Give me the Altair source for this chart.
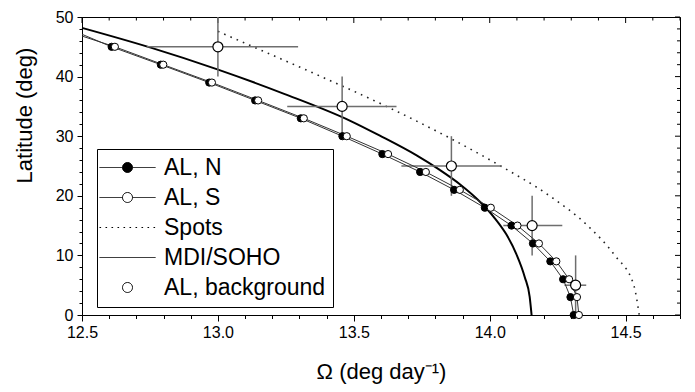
import altair as alt
import pandas as pd

# ---------------- data ----------------
lat_al = [45, 42, 39, 36, 33, 30, 27, 24, 21, 18, 15, 12, 9, 6, 3, 0]
omega_n = [12.609, 12.790, 12.968, 13.137, 13.305, 13.458, 13.605, 13.744,
           13.869, 13.982, 14.080, 14.159, 14.223, 14.270, 14.297, 14.309]
omega_s = [12.621, 12.799, 12.978, 13.148, 13.316, 13.474, 13.626, 13.765,
           13.890, 14.004, 14.102, 14.181, 14.245, 14.292, 14.321, 14.328]
# fitted AL lines continue to the left edge of the plot
edge_omega = 12.5
edge_lat_n = 47.1
edge_lat_s = 46.8

bg_lat = [45, 35, 25, 15, 5]
bg_omega = [13.000, 13.457, 13.859, 14.156, 14.316]
bg_omega_lo = [12.738, 13.255, 13.675, 14.050, 14.275]
bg_omega_hi = [13.295, 13.657, 14.043, 14.267, 14.355]
bg_lat_lo = [40, 30, 20, 10, 0]
bg_lat_hi = [50, 40, 30, 20, 10]

spots_lat = [47.6, 45, 40, 35, 30, 25, 20, 15, 10, 5, 0]
spots_omega = [13.00, 13.13, 13.38, 13.62, 13.84, 14.04, 14.22, 14.36, 14.46, 14.53, 14.55]

mdi_lat = [48.18, 44.90, 41.21, 37.07, 32.62, 30.08, 26.77, 24.34, 21.94, 19.04,
           16.27, 13.53, 10.22, 6.34, 3.03, 0.0]
mdi_omega = [12.500, 12.750, 12.998, 13.246, 13.485, 13.596, 13.731, 13.816,
             13.890, 13.963, 14.018, 14.061, 14.098, 14.129, 14.147, 14.154]

legend_names = ["AL, N", "AL, S", "Spots", "MDI/SOHO", "AL, background"]

x_ticks = [12.5, 12.6, 12.7, 12.8, 12.9, 13.0, 13.1, 13.2, 13.3, 13.4, 13.5,
           13.6, 13.7, 13.8, 13.9, 14.0, 14.1, 14.2, 14.3, 14.4, 14.5, 14.6, 14.7]
x_major = [12.5, 13.0, 13.5, 14.0, 14.5]
x_minor = [t for t in x_ticks if t not in x_major]
y_ticks = [0, 2, 4, 6, 8, 10, 12, 14, 16, 18, 20, 22, 24, 26, 28, 30, 32, 34,
           36, 38, 40, 42, 44, 46, 48, 50]
y_major = [0, 10, 20, 30, 40, 50]
y_minor = [t for t in y_ticks if t not in y_major]

# ---------------- tables ----------------
df_n = pd.DataFrame({"omega": omega_n, "lat": lat_al})
df_s = pd.DataFrame({"omega": omega_s, "lat": lat_al})
df_n_line = pd.DataFrame({"omega": [edge_omega] + omega_n, "lat": [edge_lat_n] + lat_al})
df_s_line = pd.DataFrame({"omega": [edge_omega] + omega_s, "lat": [edge_lat_s] + lat_al})
df_bg = pd.DataFrame({"omega": bg_omega, "lat": bg_lat, "olo": bg_omega_lo,
                      "ohi": bg_omega_hi, "llo": bg_lat_lo, "lhi": bg_lat_hi})
df_spots = pd.DataFrame({"omega": spots_omega, "lat": spots_lat})
df_mdi = pd.DataFrame({"omega": mdi_omega, "lat": mdi_lat})
df_leg = pd.DataFrame({"series": legend_names, "omega": [13.0] * 5, "lat": [10] * 5})

W, H = 598, 298
FONT = "Liberation Sans"
xs = alt.Scale(domain=[12.5, 14.7], nice=False, zero=False)
ys = alt.Scale(domain=[0, 50], nice=False, zero=False)

x_major_test = "abs(datum.value*2 - round(datum.value*2)) < 0.001"
y_major_test = "datum.value % 10 == 0"

# main axes (bottom / left), carried by an invisible layer
axis_main = alt.Chart(df_n).mark_point(opacity=0).encode(
    x=alt.X("omega:Q", scale=xs, axis=alt.Axis(
        orient="bottom", values=x_ticks, title="Ω (deg day⁻¹)",
        labelExpr=f"{x_major_test} ? format(datum.value, '.1f') : ''",
        tickSize={"condition": {"test": x_major_test, "value": 6}, "value": 3.5},
        labelOverlap=False, labelFlush=False, labelPadding=3,
        titleX=299, titleY=63, titleBaseline="alphabetic")),
    y=alt.Y("lat:Q", scale=ys, axis=alt.Axis(
        orient="left", values=y_ticks, title="Latitude (deg)",
        labelExpr=f"{y_major_test} ? datum.value : ''",
        tickSize={"condition": {"test": y_major_test, "value": 5}, "value": 3},
        labelOverlap=False, labelFlush=False, labelPadding=4,
        titleX=-51, titleY=98, titleBaseline="alphabetic", titleAlign="center")),
)

def X(field="omega"):
    return alt.X(f"{field}:Q", scale=xs, axis=None)

def Y(field="lat"):
    return alt.Y(f"{field}:Q", scale=ys, axis=None)

# inward ticks on the top and right frame edges
def top_ticks(vals, length):
    return alt.Chart(pd.DataFrame({"t": vals})).mark_rule(color="black", strokeWidth=1).encode(
        x=X("t"), y=alt.value(0), y2=alt.value(length))

def right_ticks(vals, length):
    return alt.Chart(pd.DataFrame({"t": vals})).mark_rule(color="black", strokeWidth=1).encode(
        y=Y("t"), x=alt.value(W - length), x2=alt.value(W))

ticks_in = [top_ticks(x_major, 6), top_ticks(x_minor, 3.5),
            right_ticks(y_major, 5), right_ticks(y_minor, 3)]

mdi = alt.Chart(df_mdi).mark_line(color="black", strokeWidth=2, interpolate="monotone").encode(
    x=X(), y=Y())
spots = alt.Chart(df_spots).mark_line(color="#222", strokeWidth=1.6, strokeDash=[1.6, 5.2],
                                      interpolate="monotone").encode(x=X(), y=Y())
err_h = alt.Chart(df_bg).mark_rule(color="#6e6e6e", strokeWidth=1.5).encode(
    x=X("olo"), x2="ohi:Q", y=Y())
err_v = alt.Chart(df_bg).mark_rule(color="#6e6e6e", strokeWidth=1.5).encode(
    x=X(), y=Y("llo"), y2="lhi:Q")
n_line = alt.Chart(df_n_line).mark_line(color="#333", strokeWidth=1).encode(x=X(), y=Y())
s_line = alt.Chart(df_s_line).mark_line(color="#333", strokeWidth=1).encode(x=X(), y=Y())
n_pts = alt.Chart(df_n).mark_point(shape="circle", filled=True, fill="black", stroke="black",
                                   strokeWidth=1, size=52, opacity=1).encode(x=X(), y=Y())
s_pts = alt.Chart(df_s).mark_point(shape="circle", filled=True, fill="white", stroke="black",
                                   strokeWidth=1, size=52, opacity=1).encode(x=X(), y=Y())
bg_pts = alt.Chart(df_bg).mark_point(shape="circle", filled=True, fill="white", stroke="black",
                                     strokeWidth=1.2, size=100, opacity=1).encode(x=X(), y=Y())

# legend symbols (custom paths, unit = sqrt(size)/2 = 5 px)
circ = "M1.4,0A1,1,0,1,1,3.4,0A1,1,0,1,1,1.4,0Z"
p_marker_line = "M-3.2,0L1.4,0M3.4,0L8,0M" + circ[1:]
p_line = "M-3.2,0L8,0"
leg_shapes = [p_marker_line, p_marker_line, p_line, p_line, circ]
leg_fills = ["black", "white", "white", "white", "white"]
leg_strokes = ["black"] * 5
leg_dash = [[1, 0], [1, 0], [1.6, 4.4], [1, 0], [1, 0]]
leg_widths = [1, 1, 1.4, 2, 1]

leg = alt.Legend(title=None)
legend_layer = alt.Chart(df_leg).transform_filter("false").mark_point(
    filled=False, size=100, opacity=1).encode(
    x=X(), y=Y(),
    shape=alt.Shape("series:N", scale=alt.Scale(domain=legend_names, range=leg_shapes), legend=leg),
    fill=alt.Fill("series:N", scale=alt.Scale(domain=legend_names, range=leg_fills), legend=leg),
    stroke=alt.Stroke("series:N", scale=alt.Scale(domain=legend_names, range=leg_strokes), legend=leg),
    strokeDash=alt.StrokeDash("series:N", scale=alt.Scale(domain=legend_names, range=leg_dash), legend=leg),
    strokeWidth=alt.StrokeWidth("series:N", scale=alt.Scale(domain=legend_names, range=leg_widths), legend=leg),
)

chart = alt.layer(
    axis_main, *ticks_in,
    mdi, spots, err_h, err_v, n_line, s_line, n_pts, s_pts, bg_pts, legend_layer
).resolve_axis(x="independent", y="independent").properties(
    width=W, height=H,
    autosize=alt.AutoSizeParams(type="none"),
    padding={"left": 74, "top": 9, "right": 7, "bottom": 69},
).configure_view(
    stroke="black", strokeWidth=1
).configure_axis(
    labelFont=FONT, labelFontSize=16, labelColor="black",
    titleFont=FONT, titleFontSize=22, titleFontWeight="normal", titleColor="black",
    domainColor="black", tickColor="black", domainWidth=1, tickWidth=1, grid=False,
).configure_legend(
    orient="none", legendX=15, legendY=132, padding=7,
    strokeColor="black", fillColor="white",
    labelFont=FONT, labelFontSize=23, labelColor="black", labelBaseline="middle",
    labelLimit=400,
    symbolSize=100, labelOffset=37, rowPadding=6,
)

chart.save("out.html", embed_options={"renderer": "svg", "actions": False})
